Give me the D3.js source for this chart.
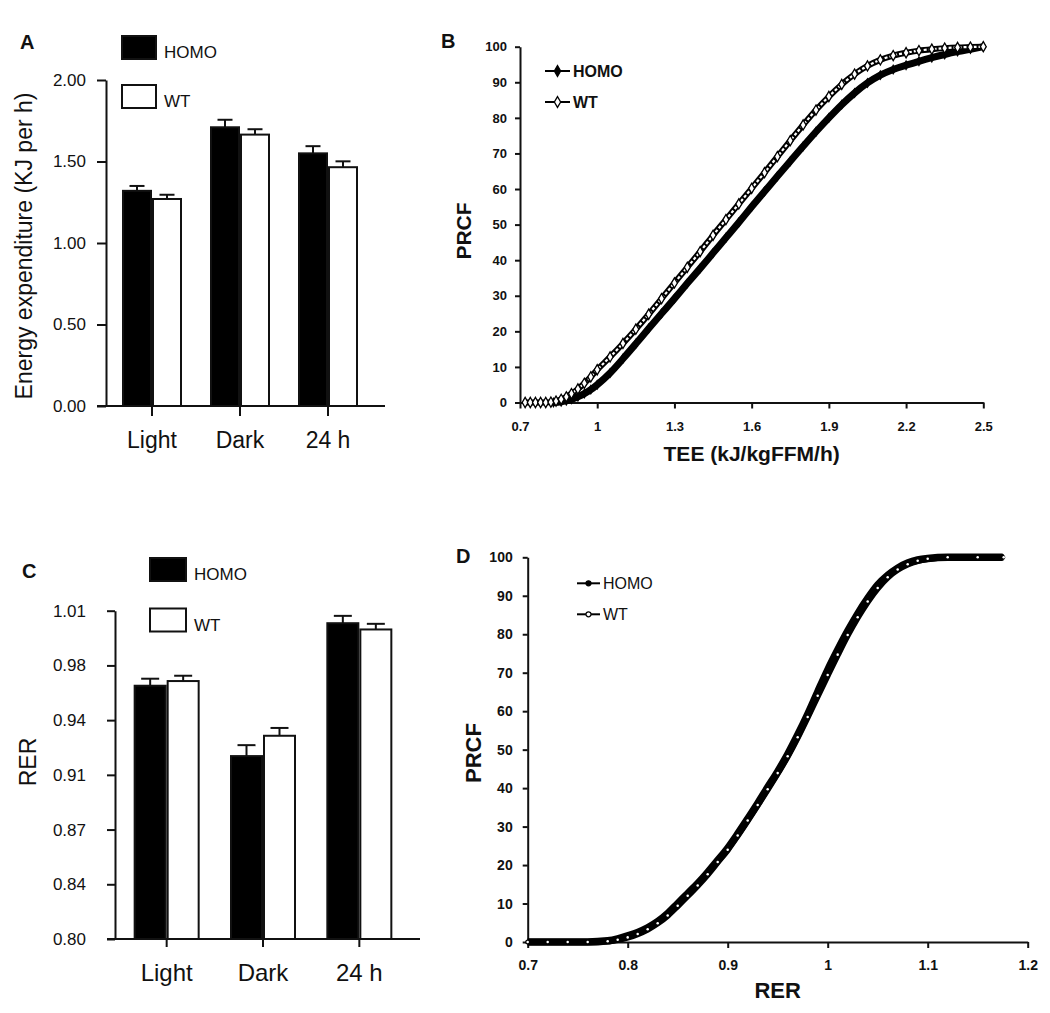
<!DOCTYPE html>
<html>
<head>
<meta charset="utf-8">
<script src="https://cdn.jsdelivr.net/npm/d3@7"></script>
<style>
body { margin: 0; background: #fff; }
text { font-family: "Liberation Sans", Arial, sans-serif; fill: #111; }
</style>
</head>
<body>
<script>
var categories = ['Light', 'Dark', '24 h'];
var groups = ['HOMO', 'WT'];

// A - energy expenditure (KJ per h)
var eeHomo = [1.32, 1.71, 1.55];
var eeHomoErr = [0.03, 0.046, 0.044];
var eeWt = [1.27, 1.665, 1.465];
var eeWtErr = [0.026, 0.033, 0.036];
var eeTicks = [0, 0.5, 1, 1.5, 2];

// C - RER
var rerHomo = [0.962, 0.917, 1.002];
var rerHomoErr = [0.0045, 0.007, 0.0047];
var rerWt = [0.965, 0.930, 0.998];
var rerWtErr = [0.0034, 0.005, 0.0036];
var rerTicks = [0.80, 0.835, 0.87, 0.905, 0.94, 0.975, 1.01];
var rerTickLabels = ['0.80', '0.84', '0.87', '0.91', '0.94', '0.98', '1.01'];

// B - PRCF of TEE (kJ/kgFFM/h)
var teeTicks = [0.7, 1, 1.3, 1.6, 1.9, 2.2, 2.5];
var prcfTicks = [0, 10, 20, 30, 40, 50, 60, 70, 80, 90, 100];
var teeHomo = [[0.83,0],[0.86,0.2],[0.88,0.5],[0.90,0.9],[0.925,1.6],[0.95,2.5],[0.975,3.6],[1.0,5],
  [1.05,8.3],[1.1,12.3],[1.15,16.5],[1.2,20.8],[1.25,25],[1.3,29.2],[1.35,33.5],[1.4,37.7],[1.45,42],
  [1.5,46.3],[1.55,50.6],[1.6,55],[1.65,59.3],[1.7,63.6],[1.75,67.8],[1.8,72],[1.85,76.1],[1.9,80],
  [1.95,83.7],[2.0,87],[2.05,89.8],[2.1,92],[2.15,93.6],[2.2,94.8],[2.25,95.9],[2.3,96.9],[2.35,97.8],
  [2.4,98.6],[2.45,99.3],[2.5,100]];
var teeWt = [[0.72,0],[0.74,0],[0.76,0],[0.78,0],[0.80,0],[0.82,0.1],[0.84,0.4],[0.86,0.9],[0.88,1.6],
  [0.90,2.5],[0.925,3.8],[0.95,5.4],[0.975,7.2],[1.0,9.2],[1.05,12.8],[1.1,16.6],[1.15,20.6],[1.2,24.8],
  [1.25,29.2],[1.3,33.6],[1.35,38],[1.4,42.4],[1.45,47],[1.5,51.4],[1.55,55.8],[1.6,60.2],[1.65,64.6],
  [1.7,69.1],[1.75,73.6],[1.8,78],[1.85,82.2],[1.9,86],[1.95,89.4],[2.0,92.3],[2.05,94.6],[2.1,96.3],
  [2.15,97.5],[2.2,98.3],[2.25,98.9],[2.3,99.3],[2.35,99.6],[2.4,99.8],[2.45,99.9],[2.5,100]];

// D - PRCF of RER
var rerCdfTicks = [0.7, 0.8, 0.9, 1, 1.1, 1.2];
var rerCdfHomo = [[0.70,0],[0.72,0],[0.74,0],[0.76,0],[0.78,0.3],[0.79,0.8],[0.80,1.6],[0.81,2.5],
  [0.82,3.7],[0.83,5.3],[0.84,7.4],[0.85,10],[0.86,12.6],[0.87,15.2],[0.88,18.1],[0.89,21.2],[0.90,24.4],
  [0.91,28.1],[0.92,32],[0.93,36],[0.94,40.2],[0.95,44.3],[0.96,48.8],[0.97,53.8],[0.98,59.2],[0.99,65],
  [1.00,70.7],[1.01,75.9],[1.02,80.8],[1.03,85.3],[1.04,89.3],[1.05,92.8],[1.06,95.3],[1.07,97.2],
  [1.08,98.5],[1.09,99.3],[1.10,99.7],[1.12,100],[1.14,100],[1.16,100],[1.175,100]];
var rerCdfWt = [[0.70,0],[0.72,0],[0.74,0],[0.76,0],[0.78,0.2],[0.79,0.6],[0.80,1.2],[0.81,2.1],
  [0.82,3.3],[0.83,4.9],[0.84,6.9],[0.85,9.4],[0.86,12],[0.87,14.7],[0.88,17.6],[0.89,20.8],[0.90,24],
  [0.91,27.7],[0.92,31.6],[0.93,35.6],[0.94,39.7],[0.95,43.9],[0.96,48.3],[0.97,53.2],[0.98,58.5],
  [0.99,64],[1.00,69.4],[1.01,74.7],[1.02,79.8],[1.03,84.4],[1.04,88.5],[1.05,92],[1.06,94.8],
  [1.07,96.8],[1.08,98.2],[1.09,99.1],[1.10,99.6],[1.12,100],[1.15,100],[1.176,100]];

var svg = d3.select('body').append('svg')
  .attr('width', 1050)
  .attr('height', 1013);

function styleAxis(g, fontSize, weight) {
  g.select('.domain').attr('stroke', '#111').attr('stroke-width', 2);
  g.selectAll('.tick line').attr('stroke', '#111').attr('stroke-width', 2);
  g.selectAll('.tick text')
    .attr('fill', '#111')
    .style('font-family', '"Liberation Sans", Arial, sans-serif')
    .style('font-size', fontSize + 'px')
    .style('font-weight', weight || 'normal');
}

function barPanel(o) {
  var y = d3.scaleLinear()
    .domain([o.ticks[0], o.ticks[o.ticks.length - 1]])
    .range([o.bottom, o.top]);
  var x = d3.scaleBand().domain(categories).range(o.xRange);
  var xs = d3.scaleBand().domain(groups).range([-o.half, o.half]);
  var g = svg.append('g');

  var rows = [];
  categories.forEach(function (c, i) {
    rows.push({ c: c, s: 'HOMO', v: o.homo[i], e: o.homoErr[i] });
    rows.push({ c: c, s: 'WT', v: o.wt[i], e: o.wtErr[i] });
  });
  function cx(d) {
    return x(d.c) + x.bandwidth() / 2 + xs(d.s) + xs.bandwidth() / 2;
  }

  // error bars (upper half only)
  g.selectAll('line.err')
    .data(rows)
    .enter()
    .append('line')
    .attr('x1', cx)
    .attr('x2', cx)
    .attr('y1', function (d) { return y(d.v); })
    .attr('y2', function (d) { return y(d.v + d.e); })
    .attr('stroke', '#111')
    .attr('stroke-width', 2);
  g.selectAll('line.cap')
    .data(rows)
    .enter()
    .append('line')
    .attr('x1', function (d) { return cx(d) - o.cap; })
    .attr('x2', function (d) { return cx(d) + o.cap; })
    .attr('y1', function (d) { return y(d.v + d.e); })
    .attr('y2', function (d) { return y(d.v + d.e); })
    .attr('stroke', '#111')
    .attr('stroke-width', 2);

  g.selectAll('rect.bar')
    .data(rows)
    .enter()
    .append('rect')
    .attr('x', function (d) { return x(d.c) + x.bandwidth() / 2 + xs(d.s) + 1; })
    .attr('width', xs.bandwidth() - 2)
    .attr('y', function (d) { return y(d.v); })
    .attr('height', function (d) { return y(o.ticks[0]) - y(d.v); })
    .attr('fill', function (d) { return d.s === 'HOMO' ? '#000' : '#fff'; })
    .attr('stroke', '#111')
    .attr('stroke-width', 2);

  // axes
  var ya = g.append('g')
    .attr('transform', 'translate(' + o.axisX + ',0)')
    .call(d3.axisLeft(y)
      .tickValues(o.ticks)
      .tickFormat(function (d, i) { return o.labels[i]; })
      .tickSize(o.tickY)
      .tickPadding(o.padY)
      .tickSizeOuter(0));
  styleAxis(ya, o.tickFont);

  g.append('line')
    .attr('x1', o.axisX - o.tickY)
    .attr('x2', o.xEnd)
    .attr('y1', o.bottom)
    .attr('y2', o.bottom)
    .attr('stroke', '#111')
    .attr('stroke-width', 2);
  var xa = g.append('g')
    .attr('transform', 'translate(0,' + o.bottom + ')')
    .call(d3.axisBottom(x).tickSize(o.tickX).tickPadding(o.padX).tickSizeOuter(0));
  xa.select('.domain').remove();
  styleAxis(xa, o.catFont);

  // legend
  var lg = g.selectAll('g.leg')
    .data(groups)
    .enter()
    .append('g')
    .attr('transform', function (d, i) { return 'translate(' + o.legX + ',' + (o.legY + i * o.legStep) + ')'; });
  lg.append('rect')
    .attr('width', o.legW)
    .attr('height', o.legH)
    .attr('fill', function (d) { return d === 'HOMO' ? '#000' : '#fff'; })
    .attr('stroke', '#111')
    .attr('stroke-width', 2);
  lg.append('text')
    .attr('x', o.legW + 8)
    .attr('y', o.legH - 1)
    .style('font-size', '17px')
    .text(function (d) { return d; });

  // titles
  g.append('text')
    .attr('transform', 'translate(' + o.titleX + ',' + o.titleY + ') rotate(-90)')
    .attr('text-anchor', 'middle')
    .style('font-size', '23px')
    .text(o.title);
  g.append('text')
    .attr('x', o.letterX)
    .attr('y', o.letterY)
    .style('font-size', '20px')
    .style('font-weight', 'bold')
    .text(o.letter);
}

function cdfPanel(o) {
  var x = d3.scaleLinear()
    .domain([o.xTicks[0], o.xTicks[o.xTicks.length - 1]])
    .range([o.left, o.right]);
  var y = d3.scaleLinear().domain([0, 100]).range([o.bottom, o.top]);
  var g = svg.append('g');

  var xa = g.append('g')
    .attr('transform', 'translate(0,' + o.bottom + ')')
    .call(d3.axisBottom(x).tickValues(o.xTicks).tickFormat(String)
      .tickSize(6).tickPadding(o.padX).tickSizeOuter(0));
  styleAxis(xa, o.tickFont, 'bold');
  var ya = g.append('g')
    .attr('transform', 'translate(' + o.left + ',0)')
    .call(d3.axisLeft(y).tickValues(prcfTicks).tickSize(5).tickPadding(o.padY).tickSizeOuter(0));
  styleAxis(ya, o.tickFont, 'bold');

  var line = d3.line()
    .x(function (d) { return x(d[0]); })
    .y(function (d) { return y(d[1]); })
    .curve(d3.curveMonotoneX);

  g.append('path')
    .attr('d', line(o.homo))
    .attr('fill', 'none')
    .attr('stroke', '#000')
    .attr('stroke-width', o.homoWidth)
    .attr('stroke-linejoin', 'round');
  g.selectAll('path.hm')
    .data(o.homo)
    .enter()
    .append('path')
    .attr('transform', function (d) { return 'translate(' + x(d[0]) + ',' + y(d[1]) + ')'; })
    .attr('d', d3.symbol().type(o.symbol).size(o.symSize))
    .attr('fill', '#000');

  g.append('path')
    .attr('d', line(o.wt))
    .attr('fill', 'none')
    .attr('stroke', '#000')
    .attr('stroke-width', o.wtWidth)
    .attr('stroke-linejoin', 'round');
  if (o.wtInner) {
    g.append('path')
      .attr('d', line(o.wt))
      .attr('fill', 'none')
      .attr('stroke', '#fff')
      .attr('stroke-width', o.wtInner)
      .attr('stroke-dasharray', '3,2');
  }
  g.selectAll('path.wm')
    .data(o.wt)
    .enter()
    .append('path')
    .attr('transform', function (d) { return 'translate(' + x(d[0]) + ',' + y(d[1]) + ')'; })
    .attr('d', d3.symbol().type(o.symbol).size(o.wtSize))
    .attr('fill', '#fff')
    .attr('stroke', '#000')
    .attr('stroke-width', o.wtStroke);

  // legend
  var lg = g.selectAll('g.leg')
    .data(groups)
    .enter()
    .append('g')
    .attr('transform', function (d, i) { return 'translate(' + o.legX + ',' + (o.legY + i * o.legStep) + ')'; });
  lg.append('line')
    .attr('x1', 0).attr('x2', o.legLen)
    .attr('stroke', '#000').attr('stroke-width', 2);
  lg.append('path')
    .attr('transform', 'translate(' + o.legLen / 2 + ',0)')
    .attr('d', d3.symbol().type(o.symbol).size(o.legSym))
    .attr('fill', function (d) { return d === 'HOMO' ? '#000' : '#fff'; })
    .attr('stroke', '#000')
    .attr('stroke-width', 1.3);
  lg.append('text')
    .attr('x', o.legLen + 3)
    .attr('y', 6)
    .style('font-size', '16px')
    .style('font-weight', o.legWeight)
    .text(function (d) { return d; });

  g.append('text')
    .attr('x', (o.left + o.right) / 2)
    .attr('y', o.xTitleY)
    .attr('text-anchor', 'middle')
    .style('font-size', o.titleFont + 'px')
    .style('font-weight', 'bold')
    .text(o.xTitle);
  g.append('text')
    .attr('transform', 'translate(' + o.yTitleX + ',' + o.yTitleY + ') rotate(-90)')
    .attr('text-anchor', 'middle')
    .style('font-size', o.titleFont + 'px')
    .style('font-weight', 'bold')
    .text('PRCF');
  g.append('text')
    .attr('x', o.letterX)
    .attr('y', o.letterY)
    .style('font-size', '20px')
    .style('font-weight', 'bold')
    .text(o.letter);
}

barPanel({
  homo: eeHomo, homoErr: eeHomoErr, wt: eeWt, wtErr: eeWtErr,
  ticks: eeTicks, labels: eeTicks.map(function (d) { return d.toFixed(2); }),
  top: 80, bottom: 406, axisX: 106, xRange: [108, 372], xEnd: 385,
  half: 30, cap: 7.5, tickY: 9, padY: 11, tickX: 10, padX: 16,
  tickFont: 17, catFont: 23,
  legX: 122, legY: 36, legStep: 49, legW: 34, legH: 23,
  title: 'Energy expenditure (KJ per h)', titleX: 32, titleY: 246,
  letter: 'A', letterX: 20, letterY: 49
});

barPanel({
  homo: rerHomo, homoErr: rerHomoErr, wt: rerWt, wtErr: rerWtErr,
  ticks: rerTicks, labels: rerTickLabels,
  top: 610.7, bottom: 939, axisX: 115, xRange: [118.5, 407.5], xEnd: 420,
  half: 33, cap: 9, tickY: 8, padY: 21, tickX: 8, padX: 17,
  tickFont: 17, catFont: 24,
  legX: 150, legY: 558, legStep: 50.5, legW: 36, legH: 23,
  title: 'RER', titleX: 36, titleY: 762,
  letter: 'C', letterX: 22, letterY: 578
});

cdfPanel({
  homo: teeHomo, wt: teeWt, xTicks: teeTicks,
  left: 520, right: 983.3, top: 46.7, bottom: 402.5,
  padX: 13, padY: 8, tickFont: 13,
  homoWidth: 7, wtWidth: 6, wtInner: 2.2, symbol: d3.symbolDiamond, symSize: 34,
  wtSize: 30, wtStroke: 1.3, legSym: 34,
  legX: 545, legY: 71, legStep: 31, legLen: 25, legWeight: 'bold',
  xTitle: 'TEE (kJ/kgFFM/h)', xTitleY: 461, titleFont: 21,
  yTitleX: 471, yTitleY: 231,
  letter: 'B', letterX: 441, letterY: 48
});

cdfPanel({
  homo: rerCdfHomo, wt: rerCdfWt, xTicks: rerCdfTicks,
  left: 527.7, right: 1027.7, top: 557.3, bottom: 942,
  padX: 12, padY: 10, tickFont: 14,
  homoWidth: 7.5, wtWidth: 6.5, wtInner: 0, symbol: d3.symbolCircle, symSize: 20,
  wtSize: 5, wtStroke: 0, legSym: 20,
  legX: 577, legY: 583.3, legStep: 31, legLen: 23, legWeight: 'normal',
  xTitle: 'RER', xTitleY: 998, titleFont: 22,
  yTitleX: 480.5, yTitleY: 753,
  letter: 'D', letterX: 456, letterY: 563
});
</script>
</body>
</html>
